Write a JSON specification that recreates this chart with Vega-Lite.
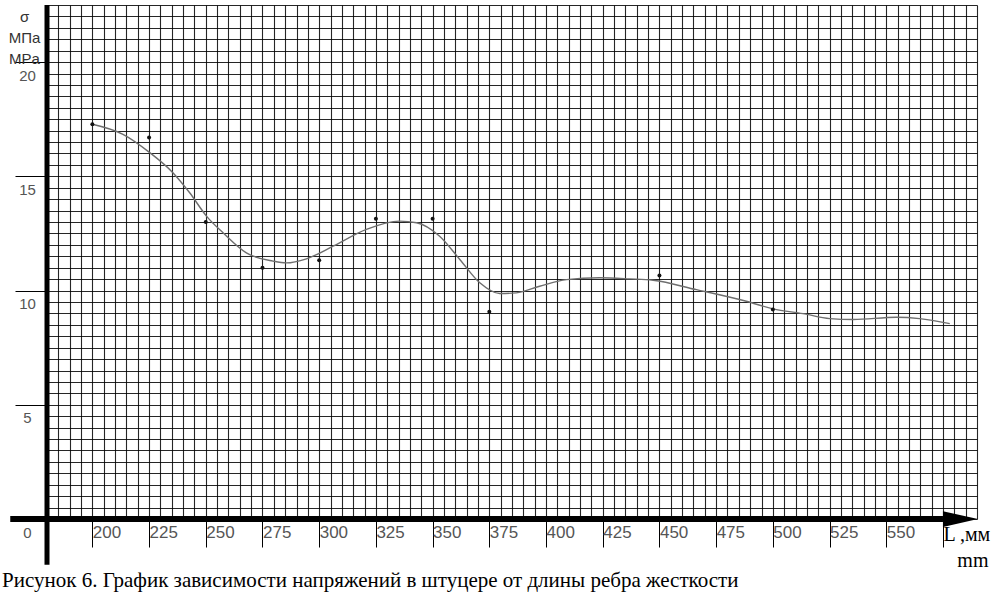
{
  "$schema": "https://vega.github.io/schema/vega-lite/v6.json",
  "description": "График зависимости напряжений в штуцере от длины ребра жесткости",
  "width": 930,
  "height": 514,
  "autosize": {"type": "none"},
  "padding": {"left": 47, "top": 5, "right": 20, "bottom": 80},
  "background": "white",
  "config": {"view": {"stroke": null}, "axis": {"domain": false}},
  "data": {"values": [{}]},
  "datasets": {
    "points": [
      {"L": 200, "sigma": 17.28},
      {"L": 225, "sigma": 16.7},
      {"L": 250, "sigma": 13.0},
      {"L": 275, "sigma": 11.0},
      {"L": 300, "sigma": 11.33},
      {"L": 325, "sigma": 13.14},
      {"L": 350, "sigma": 13.14},
      {"L": 375, "sigma": 9.07},
      {"L": 450, "sigma": 10.66},
      {"L": 500, "sigma": 9.17}
    ],
    "curve": [
      {"L": 200, "sigma": 17.28},
      {"L": 213.5, "sigma": 16.84},
      {"L": 225.3, "sigma": 16.04},
      {"L": 235.5, "sigma": 15.16},
      {"L": 242.9, "sigma": 14.28},
      {"L": 250.3, "sigma": 13.26},
      {"L": 257.6, "sigma": 12.53},
      {"L": 267.9, "sigma": 11.65},
      {"L": 279.6, "sigma": 11.29},
      {"L": 285.5, "sigma": 11.21},
      {"L": 294.4, "sigma": 11.39},
      {"L": 306.1, "sigma": 11.94},
      {"L": 320.8, "sigma": 12.68},
      {"L": 335.5, "sigma": 13.04},
      {"L": 342.9, "sigma": 12.97},
      {"L": 353.1, "sigma": 12.38},
      {"L": 362.0, "sigma": 11.36},
      {"L": 370.8, "sigma": 10.34},
      {"L": 379.6, "sigma": 9.87},
      {"L": 386.9, "sigma": 9.9},
      {"L": 397.2, "sigma": 10.19},
      {"L": 409.0, "sigma": 10.48},
      {"L": 423.6, "sigma": 10.56},
      {"L": 436.9, "sigma": 10.51},
      {"L": 447.2, "sigma": 10.45},
      {"L": 466.3, "sigma": 10.04},
      {"L": 488.3, "sigma": 9.53},
      {"L": 500.1, "sigma": 9.2},
      {"L": 513.3, "sigma": 8.99},
      {"L": 525.1, "sigma": 8.77},
      {"L": 535.4, "sigma": 8.73},
      {"L": 554.5, "sigma": 8.83},
      {"L": 564.7, "sigma": 8.77},
      {"L": 578.0, "sigma": 8.55}
    ]
  },
  "resolve": {"axis": {"x": "independent", "y": "independent"}},
  "layer": [
    {
      "data": {"name": "curve"},
      "mark": {"type": "line", "interpolate": "monotone", "color": "#6e6e6e", "strokeWidth": 1.4},
      "encoding": {
        "x": {
          "field": "L", "type": "quantitative",
          "scale": {"domain": [180, 590], "nice": false, "zero": false},
          "axis": {
            "orient": "bottom",
            "values": [180,185,190,195,200,205,210,215,220,225,230,235,240,245,250,255,260,265,270,275,280,285,290,295,300,305,310,315,320,325,330,335,340,345,350,355,360,365,370,375,380,385,390,395,400,405,410,415,420,425,430,435,440,445,450,455,460,465,470,475,480,485,490,495,500,505,510,515,520,525,530,535,540,545,550,555,560,565,570,575,580,585,590],
            "grid": true, "gridColor": "#000", "gridWidth": 1.1, "gridOpacity": 0.85,
            "ticks": true, "tickSize": 28, "tickColor": "#000", "tickWidth": 1,
            "tickOpacity": {"condition": {"test": "datum.value >= 200 && datum.value <= 575 && datum.value % 25 == 0", "value": 1}, "value": 0},
            "labelExpr": "datum.value == 575 ? 'L ,мм' : (datum.value >= 200 && datum.value <= 550 && datum.value % 25 == 0 ? format(datum.value, 'd') : '')",
            "labelAlign": "left", "labelBaseline": "top", "labelPadding": -23, "labelDx": 4,
            "labelFont": {"condition": {"test": "datum.value == 575", "value": "Liberation Serif"}, "value": "Liberation Sans"},
            "labelFontSize": {"condition": {"test": "datum.value == 575", "value": 20}, "value": 17},
            "labelColor": {"condition": {"test": "datum.value == 575", "value": "#000"}, "value": "#555"},
            "labelFlush": false, "labelOverlap": false, "labelBound": false,
            "title": null
          }
        },
        "y": {
          "field": "sigma", "type": "quantitative",
          "scale": {"domain": [0, 22.5], "nice": false, "zero": false},
          "axis": {
            "orient": "left",
            "values": [0,0.5,1,1.5,2,2.5,3,3.5,4,4.5,5,5.5,6,6.5,7,7.5,8,8.5,9,9.5,10,10.5,11,11.5,12,12.5,13,13.5,14,14.5,15,15.5,16,16.5,17,17.5,18,18.5,19,19.5,20,20.5,21,21.5,22,22.5],
            "grid": true, "gridColor": "#000", "gridWidth": 1.1, "gridOpacity": 0.85,
            "ticks": true, "tickSize": 32, "tickColor": "#000", "tickWidth": 1,
            "tickOpacity": {"condition": {"test": "datum.value % 5 == 0", "value": 1}, "value": 0},
            "labelExpr": "datum.value % 5 == 0 ? ['', format(datum.value, 'd')] : ''",
            "labelAlign": "center", "labelBaseline": "top", "labelPadding": -12, "labelLineHeight": 6,
            "labelFont": "Liberation Sans", "labelFontSize": 15, "labelColor": "#555",
            "labelFlush": false, "labelOverlap": false, "labelBound": false,
            "title": ["σ", "МПа", "MPa"],
            "titleAngle": 0, "titleAlign": "center", "titleBaseline": "alphabetic",
            "titleX": -23, "titleY": 16, "titleLineHeight": 21,
            "titleFont": "Liberation Sans", "titleFontSize": 15, "titleFontWeight": "normal", "titleColor": "#333"
          }
        }
      }
    },
    {
      "data": {"name": "points"},
      "mark": {"type": "circle", "size": 16, "color": "#111", "opacity": 1},
      "encoding": {
        "x": {"field": "L", "type": "quantitative", "axis": null},
        "y": {"field": "sigma", "type": "quantitative", "axis": null}
      }
    },
    {
      "mark": {"type": "rule", "color": "#000", "strokeWidth": 5},
      "encoding": {"x": {"datum": 180, "axis": null}, "y": {"datum": -2.0, "axis": null}, "y2": {"datum": 22.5}}
    },
    {
      "mark": {"type": "rule", "color": "#000", "strokeWidth": 6},
      "encoding": {"y": {"datum": 0, "axis": null}, "x": {"datum": 163.8, "axis": null}, "x2": {"datum": 575}}
    },
    {
      "mark": {"type": "point", "shape": "M-1,-0.45L1,0L-1,0.45Z", "filled": true, "color": "#000", "opacity": 1, "size": 1225},
      "encoding": {"x": {"datum": 582.7, "axis": null}, "y": {"datum": 0, "axis": null}}
    },
    {
      "mark": {"type": "text", "text": "mm", "font": "Liberation Serif", "fontSize": 20, "align": "center", "baseline": "alphabetic", "color": "#000"},
      "encoding": {"x": {"datum": 588.2, "axis": null}, "y": {"datum": -2.1, "axis": null}}
    },
    {
      "mark": {"type": "text", "text": "Рисунок 6. График зависимости напряжений в штуцере от длины ребра жесткости", "font": "Liberation Serif", "fontSize": 21, "align": "left", "baseline": "alphabetic", "color": "#000"},
      "encoding": {"x": {"datum": 160.16, "axis": null}, "y": {"datum": -2.98, "axis": null}}
    }
  ]
}
